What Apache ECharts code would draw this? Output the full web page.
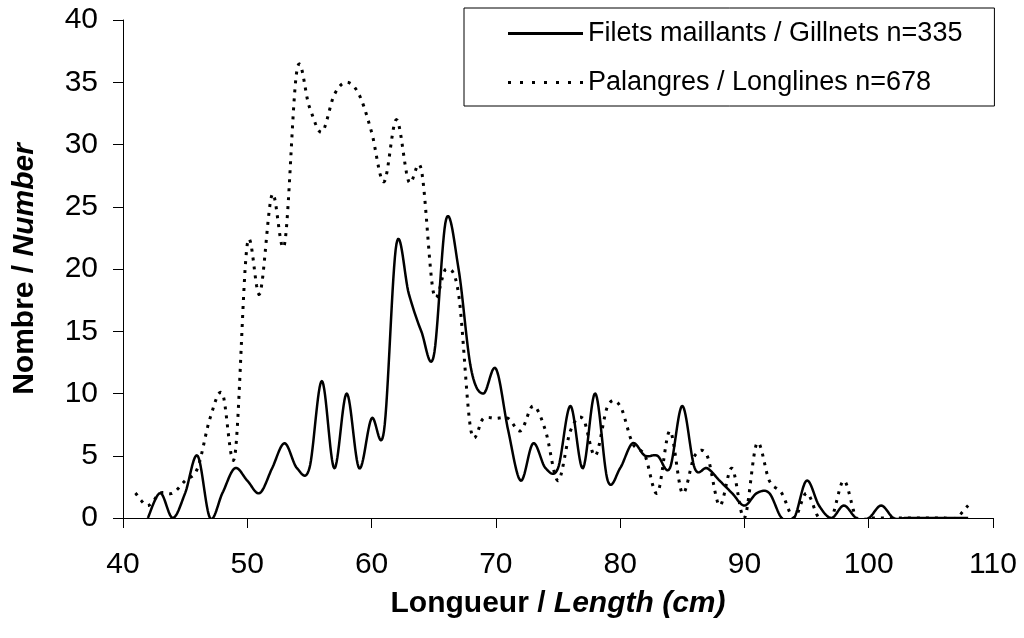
<!DOCTYPE html>
<html>
<head>
<meta charset="utf-8">
<title>Longueur / Length</title>
<script src="https://cdn.jsdelivr.net/npm/echarts@6/dist/echarts.min.js"></script>
<style>
  html, body { margin: 0; padding: 0; background: #fff; }
  #chart { width: 1024px; height: 638px; }
</style>
</head>
<body>
<div id="chart"></div>
<script>
// Length classes (cm), one per count below
const lengths = [41, 42, 43, 44, 45, 46, 47, 48, 49, 50,
  51, 52, 53, 54, 55, 56, 57, 58, 59, 60,
  61, 62, 63, 64, 65, 66, 67, 68, 69, 70,
  71, 72, 73, 74, 75, 76, 77, 78, 79, 80,
  81, 82, 83, 84, 85, 86, 87, 88, 89, 90,
  91, 92, 93, 94, 95, 96, 97, 98, 99, 100,
  101, 102, 103, 104, 105, 106, 107, 108];

// Gillnets, n = 335 (no fish at 41 cm)
const gillnets = [null, 0, 2, 0, 2, 5, 0, 2, 4, 3,
  2, 4, 6, 4, 4, 11, 4, 10, 4, 8,
  7, 22, 18, 15, 13, 24, 20, 12, 10, 12,
  7, 3, 6, 4, 4, 9, 4, 10, 3, 4,
  6, 5, 5, 4, 9, 4, 4, 3, 2, 1,
  2, 2, 0, 0, 3, 1, 0, 1, 0, 0,
  1, 0, 0, 0, 0, 0, 0, 0];

// Longlines, n = 678
const longlines = [2, 1, 2, 2, 3, 4, 8, 10, 5, 22,
  18, 26, 22, 36, 33, 31, 34, 35, 34, 31,
  27, 32, 27, 28, 18, 20, 18, 7, 8, 8,
  8, 7, 9, 7, 3, 7, 8, 5, 9, 9,
  6, 5, 2, 7, 2, 5, 5, 1, 4, 0,
  6, 3, 2, 0, 2, 0, 0, 3, 0, 0,
  0, 0, 0, 0, 0, 0, 0, 1];

const seriesNames = ['Filets maillants / Gillnets n=335', 'Palangres / Longlines n=678'];
const xTicks = { min: 40, max: 110, step: 10 };
const yTicks = { min: 0, max: 40, step: 5 };

// [length, count] pairs, skipping empty classes
const pairs = (vals) => lengths
  .map((x, i) => [x, vals[i]])
  .filter((p) => p[1] !== null && p[1] !== undefined);

const FONT = '"Liberation Sans", Arial, sans-serif';

// Spreadsheet-style smoothed line: cubic Bezier through every point with
// Catmull-Rom handles (1/6 of the neighbour span), sampled into a polyline.
function smoothPoints(pts, steps) {
  const out = [];
  const n = pts.length;
  for (let i = 0; i < n - 1; i++) {
    const p0 = pts[Math.max(i - 1, 0)];
    const p1 = pts[i];
    const p2 = pts[i + 1];
    const p3 = pts[Math.min(i + 2, n - 1)];
    const c1 = [p1[0] + (p2[0] - p0[0]) / 6, p1[1] + (p2[1] - p0[1]) / 6];
    const c2 = [p2[0] - (p3[0] - p1[0]) / 6, p2[1] - (p3[1] - p1[1]) / 6];
    for (let s = (i === 0 ? 0 : 1); s <= steps; s++) {
      const t = s / steps, u = 1 - t;
      const a = u * u * u, b = 3 * u * u * t, c = 3 * u * t * t, d = t * t * t;
      out.push([
        a * p1[0] + b * c1[0] + c * c2[0] + d * p2[0],
        a * p1[1] + b * c1[1] + c * c2[1] + d * p2[1]
      ]);
    }
  }
  return out;
}

function curveSeries(name, data, lineStyle) {
  return {
    name: name,
    type: 'custom',
    coordinateSystem: 'cartesian2d',
    clip: true,
    data: data,
    encode: { x: 0, y: 1 },
    itemStyle: { color: '#000' },
    renderItem: function (params, api) {
      if (params.dataIndex !== 0) return null;
      const pix = data.map((d) => api.coord(d));
      return {
        type: 'polyline',
        shape: { points: smoothPoints(pix, 16) },
        style: Object.assign({ fill: 'none', stroke: '#000', lineJoin: 'round' }, lineStyle),
        silent: true
      };
    }
  };
}

const titleRich = {
  b: { fontFamily: FONT, fontSize: 30, fontWeight: 'bold', color: '#000' },
  bi: { fontFamily: FONT, fontSize: 30, fontWeight: 'bold', fontStyle: 'italic', color: '#000' }
};

const solidIcon = 'path://M0,0h75v3h-75z';
const dottedIcon = 'path://M0,0h3v3h-3zM12,0h3v3h-3zM24,0h3v3h-3zM36,0h3v3h-3zM48,0h3v3h-3zM60,0h3v3h-3zM72,0h3v3h-3z';

const chart = echarts.init(document.getElementById('chart'), null, { renderer: 'canvas' });

chart.setOption({
  animation: false,
  backgroundColor: '#ffffff',
  textStyle: { fontFamily: FONT, color: '#000' },
  grid: { left: 123, right: 31, top: 20, bottom: 120, containLabel: false },
  legend: {
    orient: 'vertical',
    left: 464,
    top: 8,
    padding: [12, 32, 10, 44],
    itemWidth: 75,
    itemHeight: 3,
    itemGap: 22,
    borderColor: '#000',
    borderWidth: 1,
    backgroundColor: '#fff',
    itemStyle: { color: '#000' },
    textStyle: { fontFamily: FONT, fontSize: 27, color: '#000' },
    data: [
      { name: seriesNames[0], icon: solidIcon },
      { name: seriesNames[1], icon: dottedIcon }
    ]
  },
  xAxis: {
    type: 'value',
    min: xTicks.min,
    max: xTicks.max,
    interval: xTicks.step,
    name: '{b|Longueur / }{bi|Length (cm)}',
    nameLocation: 'middle',
    nameGap: 71,
    nameTextStyle: { rich: titleRich },
    axisLine: { show: true, onZero: false, lineStyle: { color: '#000', width: 1 } },
    axisTick: { show: true, inside: false, length: 10, lineStyle: { color: '#000', width: 1 } },
    axisLabel: { fontFamily: FONT, fontSize: 30, color: '#000', margin: 32 },
    splitLine: { show: false }
  },
  yAxis: {
    type: 'value',
    min: yTicks.min,
    max: yTicks.max,
    interval: yTicks.step,
    name: '{b|Nombre / }{bi|Number}',
    nameLocation: 'middle',
    nameRotate: 90,
    nameGap: 83,
    nameTextStyle: { rich: titleRich },
    axisLine: { show: true, lineStyle: { color: '#000', width: 1 } },
    axisTick: { show: true, inside: false, length: 10, lineStyle: { color: '#000', width: 1 } },
    axisLabel: { fontFamily: FONT, fontSize: 30, color: '#000', margin: 25 },
    splitLine: { show: false }
  },
  series: [
    curveSeries(seriesNames[0], pairs(gillnets), { lineWidth: 2.5 }),
    curveSeries(seriesNames[1], pairs(longlines), { lineWidth: 3, lineDash: [3, 6] })
  ]
});
</script>
</body>
</html>
